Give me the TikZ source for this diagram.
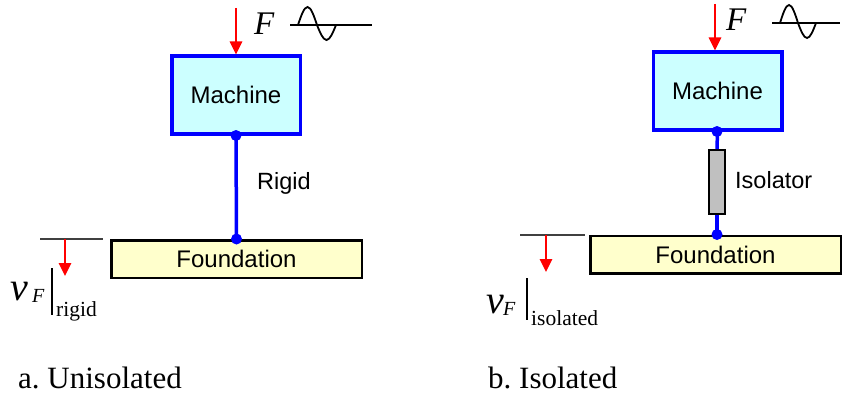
\documentclass[tikz,border=0pt]{standalone}
\usepackage{fontspec}
\setmainfont{Liberation Serif}
\newfontfamily\arialfont{Liberation Sans}
\usetikzlibrary{arrows.meta}
\definecolor{machfill}{HTML}{CCFFFF}
\definecolor{foundfill}{HTML}{FFFFCC}
\definecolor{isofill}{HTML}{C0C0C0}
\definecolor{refgray}{HTML}{404040}
\frenchspacing
\begin{document}
\begin{tikzpicture}[x=1pt,y=-1pt,
  machbox/.style={draw=blue, line width=3.5pt, fill=machfill, inner sep=0pt,
    minimum width=128.5pt, minimum height=77.5pt, font=\arialfont\fontsize{24}{28}\selectfont},
  foundbox/.style={draw=black, line width=2.5pt, fill=foundfill, inner sep=0pt,
    minimum width=250.5pt, minimum height=37.5pt, font=\arialfont\fontsize{24}{28}\selectfont},
  isobox/.style={draw=black, line width=1.8pt, fill=isofill, inner sep=0pt,
    minimum width=16pt, minimum height=64pt},
  link/.style={draw=blue, line width=3.5pt},
  joint/.style={fill=blue},
  force/.style={draw=red, line width=2.8pt, -{Triangle[length=13pt,width=12pt]}},
  refl/.style={draw=refgray, line width=1.8pt},
  wave/.style={draw=black, line width=1.8pt},
  sanslabel/.style={anchor=west, inner sep=0pt, font=\arialfont\fontsize{23.5}{27}\selectfont},
  caption/.style={anchor=base west, inner sep=0pt, font=\fontsize{31}{35}\selectfont},
  bigv/.style={anchor=base west, inner sep=0pt, font=\fontsize{40}{44}\selectfont\itshape},
  subF/.style={anchor=base west, inner sep=0pt, font=\fontsize{20}{24}\selectfont\itshape},
  subtxt/.style={anchor=base west, inner sep=0pt, font=\fontsize{21.5}{25}\selectfont},
  topF/.style={anchor=base west, inner sep=0pt, font=\fontsize{33}{37}\selectfont\itshape}
]
\useasboundingbox (0,0) rectangle (844,396);

% ---------- a. Unisolated ----------
\node[machbox] (m1) at (236,95) {Machine};
\node[foundbox] (f1) at (236.5,259) {Foundation};
\draw[link] (m1.south) -- (f1.north);
\fill[joint] (m1.south) circle (5.5pt);
\fill[joint] (f1.north) circle (5.5pt);
\node[sanslabel] (rig) at (257,183) {Rigid};

\coordinate (fa1) at (236,8);
\draw[force] (fa1) -- (fa1 |- m1.north);
\node[topF] (F1) at (254,35) {F};
\draw[wave] (290,25) -- (372,25);
\draw[wave] (298,25) sin (307.5,7) cos (317,25) sin (326.5,40) cos (336,25);

\coordinate (r1a) at (40,239);
\coordinate (r1b) at (103,239);
\draw[refl] (r1a) -- (r1b);
\coordinate (va1) at (65,239);
\coordinate (vb1) at (65,276);
\draw[force] (va1) -- (vb1);
\node[bigv] (v1) at (10,300) {v};
\node[subF] (vF1) at (32,302) {F};
\coordinate (bar1a) at (52,268);
\coordinate (bar1b) at (52,315);
\draw[line width=1.2pt] (bar1a) -- (bar1b);
\node[subtxt] (rg) at (56,316) {rigid};

\node[caption] (capa) at (18,388) {a. Unisolated};

% ---------- b. Isolated ----------
\node[machbox] (m2) at (717.5,91) {Machine};
\node[foundbox] (f2) at (715.5,254.5) {Foundation};
\node[isobox] (iso) at (717,182) {};
\draw[link] (m2.south) -- (iso.north);
\draw[link] (iso.south) -- (iso.south |- f2.north);
\fill[joint] (m2.south -| iso.south) circle (5.5pt);
\fill[joint] (iso.south |- f2.north) circle (5.5pt);
\node[sanslabel] (isol) at (735,180) {Isolator};

\coordinate (fa2) at (715,4);
\draw[force] (fa2) -- (fa2 |- m2.north);
\node[topF] (F2) at (726,31) {F};
\draw[wave] (772,23) -- (840,23);
\draw[wave] (780,23) sin (789,5) cos (798,23) sin (807,38) cos (816,23);

\coordinate (r2a) at (520,235);
\coordinate (r2b) at (585,235);
\draw[refl] (r2a) -- (r2b);
\coordinate (va2) at (546,235);
\coordinate (vb2) at (546,272);
\draw[force] (va2) -- (vb2);
\node[bigv] (v2) at (486,313) {v};
\node[subF] (vF2) at (503,315) {F};
\coordinate (bar2a) at (527,278);
\coordinate (bar2b) at (527,320);
\draw[line width=1.2pt] (bar2a) -- (bar2b);
\node[subtxt] (isd) at (531,325) {isolated};

\node[caption] (capb) at (488,388) {b. Isolated};
\end{tikzpicture}
\end{document}
